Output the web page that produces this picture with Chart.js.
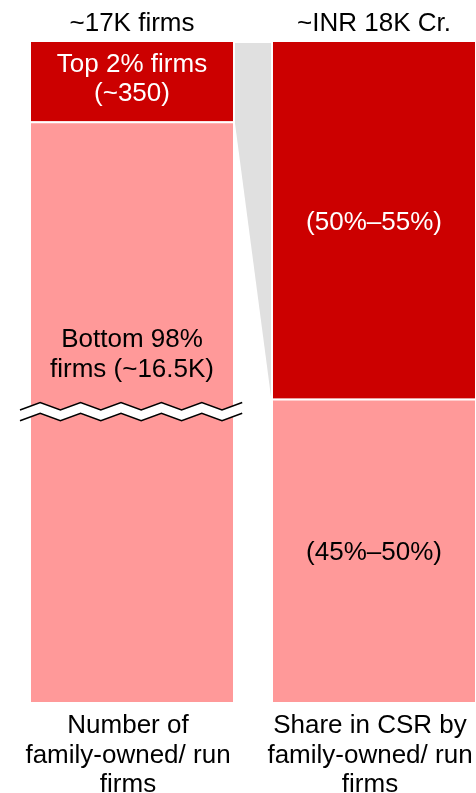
<!DOCTYPE html>
<html>
<head>
<meta charset="utf-8">
<script src="https://cdn.jsdelivr.net/npm/chart.js@4/dist/chart.umd.min.js"></script>
<style>
  html, body { margin: 0; padding: 0; background: #fff; overflow: hidden; }
  #wrap { width: 476px; height: 793px; overflow: hidden; }
</style>
</head>
<body>
<div id="wrap"><canvas id="csrChart" width="500" height="793"></canvas></div>
<script>
// ====== DATA ======
const categories = [
  ['Number of', 'family-owned/ run', 'firms'],
  ['Share in CSR by', 'family-owned/ run', 'firms']
];
const totals = ['~17K firms', '~INR 18K Cr.'];
// shown heights in % of each bar (left bar uses a broken scale)
const bottomShare = [88, 46];
const topShare = [12, 54];
const bottomLabels = [['Bottom 98%', 'firms (~16.5K)'], ['(45%–50%)']];
const topLabels = [['Top 2% firms', '(~350)'], ['(50%–55%)']];
const breakAt = 44; // value on the left bar where the axis break sits

const DARK = '#CC0000';
const PINK = '#FF9999';
const FONT = '26px "Liberation Sans", Arial, sans-serif';
const CAP = 9.3; // half cap height at 26px

function drawLines(ctx, lines, x, cy, lh, color) {
  ctx.fillStyle = color;
  const first = cy - (lines.length - 1) * lh / 2 + CAP;
  lines.forEach((t, i) => ctx.fillText(t, x, first + i * lh));
}

// ====== PLUGINS ======
const connector = {
  id: 'connector',
  beforeDatasetsDraw(chart) {
    const ctx = chart.ctx;
    const top = chart.getDatasetMeta(1).data;
    const l = top[0], r = top[1];
    const lx = l.x + l.width / 2 + 2;
    const rx = r.x - r.width / 2 - 2;
    ctx.save();
    ctx.fillStyle = '#E0E0E0';
    ctx.beginPath();
    ctx.moveTo(lx, l.y + 1);
    ctx.lineTo(rx, r.y + 1);
    ctx.lineTo(rx, r.base - 2);
    ctx.lineTo(lx, l.base + 2);
    ctx.closePath();
    ctx.fill();
    ctx.restore();
  }
};

const labels = {
  id: 'labels',
  afterDatasetsDraw(chart) {
    const ctx = chart.ctx;
    const area = chart.chartArea;
    const y = chart.scales.y;
    const bot = chart.getDatasetMeta(0).data;
    const top = chart.getDatasetMeta(1).data;

    // axis break on the left bar
    const b = bot[0];
    const breakY = y.getPixelForValue(breakAt);
    const x0 = b.x - b.width / 2 - 11, x1 = b.x + b.width / 2 + 11;
    const step = 20.2, amp = 3.7, gap = 5.35;
    const pts = [];
    for (let k = 0; x0 + k * step <= x1 + 0.1; k++) {
      pts.push([x0 + k * step, k % 2 === 0 ? amp : -amp]);
    }
    ctx.save();
    ctx.fillStyle = '#fff';
    ctx.beginPath();
    pts.forEach(([px, dy], i) => i ? ctx.lineTo(px, breakY - gap + dy) : ctx.moveTo(px, breakY - gap + dy));
    pts.slice().reverse().forEach(([px, dy]) => ctx.lineTo(px, breakY + gap + dy));
    ctx.closePath();
    ctx.fill();
    ctx.strokeStyle = '#000';
    ctx.lineWidth = 1.6;
    ctx.lineJoin = 'miter';
    [-gap, gap].forEach(off => {
      ctx.beginPath();
      pts.forEach(([px, dy], i) => i ? ctx.lineTo(px, breakY + off + dy) : ctx.moveTo(px, breakY + off + dy));
      ctx.stroke();
    });

    ctx.font = FONT;
    ctx.textAlign = 'center';
    ctx.textBaseline = 'alphabetic';

    // totals above and category names below
    top.forEach((el, i) => {
      drawLines(ctx, [totals[i]], el.x, area.top - 11 - CAP, 0, '#000');
      drawLines(ctx, categories[i], el.x - 4, area.bottom + 31 - CAP + 29.5, 29.5, '#000');
    });

    // segment labels
    drawLines(ctx, topLabels[0], top[0].x, (top[0].y + top[0].base) / 2 - 4.5, 28.5, '#fff');
    drawLines(ctx, bottomLabels[0], bot[0].x, breakY - 59, 30, '#000');
    drawLines(ctx, topLabels[1], top[1].x, (top[1].y + top[1].base) / 2, 30, '#fff');
    drawLines(ctx, bottomLabels[1], bot[1].x, (bot[1].y + bot[1].base) / 2, 30, '#000');
    ctx.restore();
  }
};

// ====== CHART ======
new Chart(document.getElementById('csrChart'), {
  type: 'bar',
  data: {
    labels: totals,
    datasets: [
      {
        data: bottomShare,
        backgroundColor: PINK,
        borderColor: '#fff',
        borderWidth: { top: 2, left: 0, right: 0, bottom: 0 },
        borderSkipped: false
      },
      {
        data: topShare,
        backgroundColor: DARK,
        borderWidth: 0
      }
    ]
  },
  options: {
    responsive: false,
    animation: false,
    events: [],
    layout: { padding: { left: 11, right: 5, top: 42, bottom: 91 } },
    datasets: { bar: { categoryPercentage: 1, barPercentage: 0.8347 } },
    plugins: { legend: { display: false }, tooltip: { enabled: false } },
    scales: {
      x: { stacked: true, display: false },
      y: { stacked: true, display: false, min: 0, max: 100 }
    }
  },
  plugins: [connector, labels]
});
</script>
</body>
</html>
